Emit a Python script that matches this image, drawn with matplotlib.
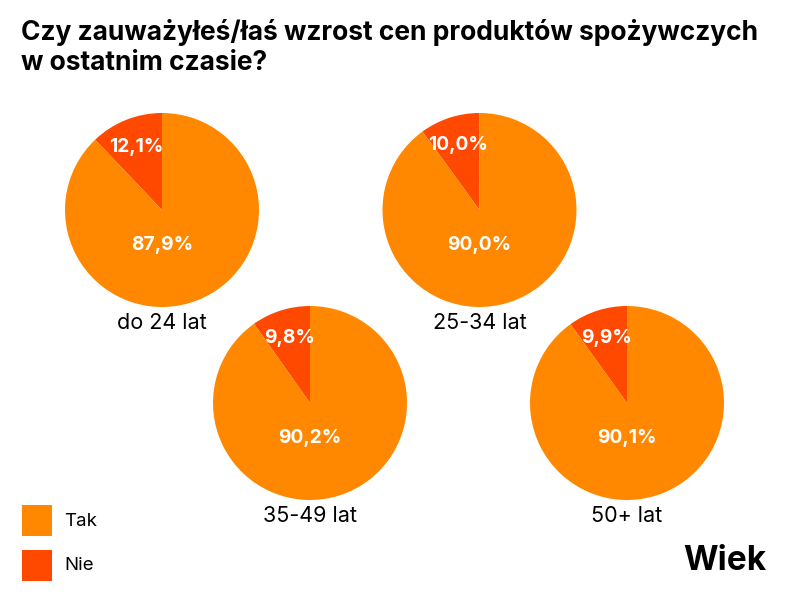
import matplotlib
matplotlib.use("Agg")
import matplotlib.pyplot as plt
from matplotlib.patches import Rectangle
import numpy as np

title = "Czy zauważyłeś/łaś wzrost cen produktów spożywczych\nw ostatnim czasie?"
groups = ["do 24 lat", "25-34 lat", "35-49 lat", "50+ lat"]
tak = [87.9, 90.0, 90.2, 90.1]
nie = [12.1, 10.0, 9.8, 9.9]
series = ["Tak", "Nie"]
colors = {"Tak": "#FF8800", "Nie": "#FF4800"}
axis_title = "Wiek"

W, H = 800, 600
fig = plt.figure(figsize=(8, 6), dpi=100)
ax = fig.add_axes([0, 0, 1, 1])
ax.set_xlim(0, W)
ax.set_ylim(0, H)
ax.set_aspect("equal")
ax.axis("off")

FONT = ["Inter", "DejaVu Sans"]

centers = [(162, 210), (479.5, 210), (310, 403), (627, 403)]
R = 97

def fy(y):
    return H - y

for g, t, n, (cx, cy) in zip(groups, tak, nie, centers):
    c = (cx, fy(cy))
    ax.pie([n, t], colors=[colors["Nie"], colors["Tak"]], startangle=90,
           counterclock=True, center=c, radius=R, frame=True,
           wedgeprops=dict(linewidth=0))
    mid = np.deg2rad(90 + n / 100 * 360 / 2)
    ax.text(c[0] + 0.70 * R * np.cos(mid), c[1] + 0.70 * R * np.sin(mid),
            f"{n:.1f}%".replace(".", ","), color="white", fontsize=13.8,
            fontweight="bold", ha="center", va="center", family=FONT)
    ax.text(c[0], c[1] - 0.36 * R, f"{t:.1f}%".replace(".", ","),
            color="white", fontsize=13.8, fontweight="bold", ha="center",
            va="center", family=FONT)
    ax.text(c[0], c[1] - 113, g, color="black", fontsize=15.5,
            ha="center", va="center", family=FONT)

ax.set_xlim(0, W)
ax.set_ylim(0, H)
ax.axis("off")

ax.text(21, fy(19), title, fontsize=19, fontweight="bold", ha="left",
        va="top", family=FONT, linespacing=1.2)

leg_y = [505, 550]
for s, y in zip(series, leg_y):
    ax.add_patch(Rectangle((22, fy(y + 31)), 30, 31, color=colors[s], linewidth=0))
    ax.text(64, fy(y + 16), s, fontsize=13.5, ha="left", va="center", family=FONT)

ax.text(766, fy(561), axis_title, fontsize=24, fontweight="bold", ha="right",
        va="center", family=FONT)

fig.savefig("out.png", dpi=100)
